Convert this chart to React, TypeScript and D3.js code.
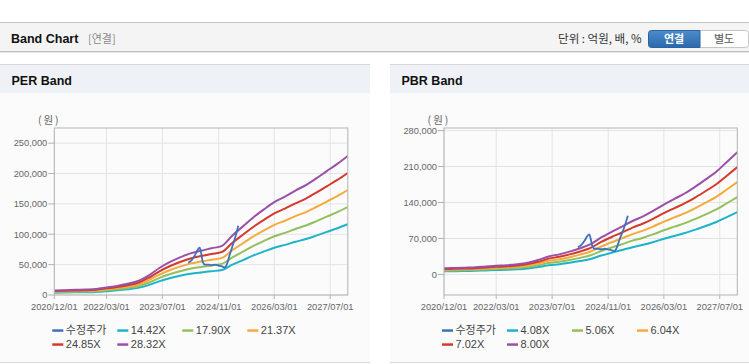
import { scaleLinear, scaleTime, line as d3line, format, timeParse, curveMonotoneX } from "d3";

const parseDate = timeParse("%Y-%m-%d");

// quarterly points of the band lines
const bandDates = [
  "2020-12-01", "2021-03-01", "2021-06-01", "2021-09-01", "2021-12-01",
  "2022-03-01", "2022-06-01", "2022-09-01", "2022-12-01", "2023-03-01",
  "2023-06-01", "2023-09-01", "2023-12-01", "2024-03-01", "2024-06-01",
  "2024-09-01", "2024-12-01", "2025-03-01", "2025-06-01", "2025-09-01",
  "2025-12-01", "2026-03-01", "2026-06-01", "2026-09-01", "2026-12-01",
  "2027-03-01", "2027-06-01", "2027-09-01", "2027-12-01",
];

// EPS (won) behind the PER band
const epsValues = [
  265, 282, 300, 318, 353, 441, 530, 653, 812, 1130,
  1554, 1907, 2189, 2419, 2578, 2719, 2860, 3460, 3990, 4520,
  4979, 5403, 5720, 6073, 6391, 6780, 7203, 7627, 8086,
];

// BPS (won) behind the PBR band
const bpsValues = [
  1500, 1560, 1650, 1750, 1940, 2100, 2250, 2500, 2880, 3500,
  4380, 4880, 5560, 6380, 7380, 9000, 10380, 11630, 13000, 14130,
  15500, 17000, 18380, 19750, 21380, 23130, 25000, 27380, 29750,
];

const perMultiples = [14.42, 17.9, 21.37, 24.85, 28.32];
const perLabels = ["14.42X", "17.90X", "21.37X", "24.85X", "28.32X"];
const pbrMultiples = [4.08, 5.06, 6.04, 7.02, 8.0];
const pbrLabels = ["4.08X", "5.06X", "6.04X", "7.02X", "8.00X"];

// 수정주가
const priceDates = [
  "2024-02-10", "2024-03-10", "2024-04-10", "2024-05-01", "2024-05-20",
  "2024-06-01", "2024-06-15", "2024-07-05", "2024-08-01", "2024-09-01",
  "2024-10-01", "2024-11-01", "2024-12-01", "2024-12-25", "2025-01-15",
  "2025-02-05", "2025-03-18", "2025-04-05", "2025-04-21",
];
const priceValues = [
  53000, 57000, 66000, 74000, 78000,
  70000, 55000, 50000, 50000, 49000,
  50000, 48500, 47000, 45500, 52000,
  66000, 90000, 102000, 114000,
];

const xTickLabels = ["2020/12/01", "2022/03/01", "2023/07/01", "2024/11/01", "2026/03/01", "2027/07/01"];
const perYTicks = [0, 50000, 100000, 150000, 200000, 250000];
const pbrYTicks = [0, 70000, 140000, 210000, 280000];

const priceColor = "#3e72ba";
const bandColors = ["#1db3c8", "#93c05c", "#f4aa3d", "#d5392e", "#9b50a7"];

const FONT = "'Liberation Sans', Arial, 'Noto Sans CJK KR', sans-serif";
const KFONT = "'Noto Sans CJK KR', 'Liberation Sans', sans-serif";

type Pt = [Date, number];

function BandPanel(props: {
  id: string;
  px: number;
  pw: number;
  title: string;
  left: number;
  right: number;
  yDomain: [number, number];
  yTicks: number[];
  base: number[];
  multiples: number[];
  labels: string[];
}) {
  const { id, px, pw, title, left, right, yDomain, yTicks, base, multiples, labels } = props;
  const top = 128;
  const bottom = 295;
  const x = scaleTime()
    .domain([parseDate("2020-12-01")!, parseDate("2027-12-01")!])
    .range([left, right]);
  const y = scaleLinear().domain(yDomain).range([bottom, top]);
  const ln = d3line<Pt>().x((d) => x(d[0])).y((d) => y(d[1])).curve(curveMonotoneX);
  const fmt = format(",");
  const dates = bandDates.map((d) => parseDate(d)!);
  const xTicks = xTickLabels.map((s) => parseDate(s.replace(/\//g, "-"))!);

  const bands = multiples.map((m) => ln(dates.map((d, i) => [d, base[i] * m] as Pt)) ?? "");
  const price = ln(priceDates.map((d, i) => [parseDate(d)!, priceValues[i]] as Pt)) ?? "";

  const legendNames = ["수정주가", ...labels];
  const legendColors = [priceColor, ...bandColors];

  return (
    <g>
      <rect x={px} y={64} width={pw} height={298} fill="#fbfbfc" />
      <rect x={px} y={64} width={pw} height={29} fill="#eef2f7" />
      <line x1={px} x2={px + pw} y1={64.5} y2={64.5} stroke="#d6d6d6" />
      <line x1={px} x2={px + pw} y1={362.5} y2={362.5} stroke="#d9d9d9" />
      <text x={px + 11.5} y={85} fontFamily={FONT} fontSize={12.5} fontWeight="bold" fill="#111">
        {title}
      </text>

      <text x={left - 5} y={124} textAnchor="middle" fontFamily={KFONT} fontSize={10.5} letterSpacing={2} fill="#666">
        (원)
      </text>

      <defs>
        <clipPath id={id}>
          <rect x={left} y={top} width={right - left} height={bottom - top} />
        </clipPath>
      </defs>

      {/* grid */}
      {xTicks.map((t, i) => (
        <line key={"gx" + i} x1={x(t)} x2={x(t)} y1={top} y2={bottom} stroke="#e4e4e4" />
      ))}
      {yTicks.map((t) => (
        <line key={"gy" + t} x1={left} x2={right} y1={y(t)} y2={y(t)} stroke="#e4e4e4" />
      ))}

      <g clipPath={`url(#${id})`}>
        {bands.map((d, i) => (
          <path key={i} d={d} fill="none" stroke={bandColors[i]} strokeWidth={2} strokeLinejoin="round" />
        ))}
        <path d={price} fill="none" stroke={priceColor} strokeWidth={1.8} strokeLinejoin="round" />
      </g>

      <rect x={left} y={top} width={right - left} height={bottom - top} fill="none" stroke="#b3b3b3" />

      {yTicks.map((t) => (
        <g key={"ty" + t}>
          <line x1={left - 6} x2={left} y1={y(t)} y2={y(t)} stroke="#b3b3b3" />
          <text x={left - 7} y={y(t)} dy="0.35em" textAnchor="end" fontFamily={FONT} fontSize={9.3} fill="#666">
            {fmt(t)}
          </text>
        </g>
      ))}
      {xTicks.map((t, i) => (
        <g key={"tx" + i}>
          <line x1={x(t)} x2={x(t)} y1={bottom} y2={bottom + 4} stroke="#b3b3b3" />
          <text x={x(t)} y={310} textAnchor="middle" fontFamily={FONT} fontSize={9.3} fill="#666">
            {xTickLabels[i]}
          </text>
        </g>
      ))}

      {legendNames.map((name, i) => {
        const lx = left - 2 + (i % 4) * 65;
        const ly = 330.5 + Math.floor(i / 4) * 14;
        return (
          <g key={name}>
            <rect x={lx} y={ly - 1.2} width={11} height={2.5} fill={legendColors[i]} />
            <text x={lx + 13.5} y={ly} dy="0.36em" fontFamily={i === 0 ? KFONT : FONT} fontSize={11} fill="#444">
              {name}
            </text>
          </g>
        );
      })}
    </g>
  );
}

export default function App() {
  return (
    <div style={{ position: "absolute", left: 0, top: 0 }}>
      <svg width={749} height={364} style={{ display: "block", background: "#fff" }}>
        <defs>
          <linearGradient id="btnBlue" x1="0" y1="0" x2="0" y2="1">
            <stop offset="0%" stopColor="#4d8dcd" />
            <stop offset="100%" stopColor="#2c68a9" />
          </linearGradient>
        </defs>

        {/* top header */}
        <rect x={0} y={22} width={749} height={30} fill="#f4f4f4" />
        <line x1={0} x2={749} y1={22.5} y2={22.5} stroke="#c4c4c4" />
        <line x1={0} x2={749} y1={51.5} y2={51.5} stroke="#c2c2c2" />
        <line x1={0} x2={749} y1={52.5} y2={52.5} stroke="#e6e6e6" />
        <text x={11} y={42.5} fontFamily={FONT} fontSize={12.5} fontWeight="bold" fill="#111">
          Band Chart
        </text>
        <text x={88} y={42.5} fontFamily={KFONT} fontSize={11} fill="#8a8a8a">
          [연결]
        </text>
        <text x={641.5} y={42.5} textAnchor="end" fontFamily={KFONT} fontSize={11.5} fill="#333">
          단위 : 억원, 배, %
        </text>
        <rect x={648.5} y={30.5} width={100} height={17} rx={3} fill="#fff" stroke="#c6c6c6" />
        <path
          d="M651.5,30.5 H700 V47.5 H651.5 A3,3 0 0 1 648.5,44.5 V33.5 A3,3 0 0 1 651.5,30.5 Z"
          fill="url(#btnBlue)"
          stroke="#2a63a2"
        />
        <text x={674} y={42.5} textAnchor="middle" fontFamily={KFONT} fontSize={11} fontWeight="bold" fill="#fff">
          연결
        </text>
        <text x={724} y={42.5} textAnchor="middle" fontFamily={KFONT} fontSize={11} fill="#555">
          별도
        </text>

        <BandPanel
          id="clipPer"
          px={0}
          pw={370}
          title="PER Band"
          left={54.3}
          right={347.8}
          yDomain={[0, 275000]}
          yTicks={perYTicks}
          base={epsValues}
          multiples={perMultiples}
          labels={perLabels}
        />
        <BandPanel
          id="clipPbr"
          px={390}
          pw={359}
          title="PBR Band"
          left={444}
          right={737.3}
          yDomain={[-40000, 285000]}
          yTicks={pbrYTicks}
          base={bpsValues}
          multiples={pbrMultiples}
          labels={pbrLabels}
        />
      </svg>
    </div>
  );
}
